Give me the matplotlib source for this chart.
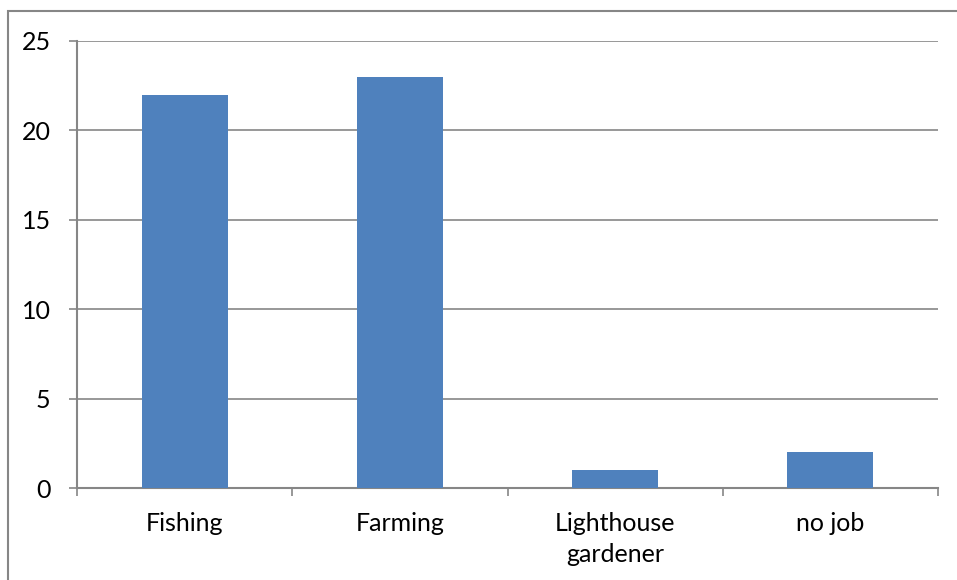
import matplotlib
matplotlib.use("Agg")
import matplotlib.pyplot as plt
from matplotlib.patches import Rectangle

categories = ["Fishing", "Farming", "Lighthouse\ngardener", "no job"]
counts = [22, 23, 1, 2]
y_ticks = [0, 5, 10, 15, 20, 25]

grey = "#868686"
bar_blue = "#4F81BD"

plt.rcParams["font.family"] = ["Lato", "DejaVu Sans"]

fig = plt.figure(figsize=(9.57, 5.80), dpi=100)
W, H = 957, 580
ax = fig.add_axes([77 / W, 1 - 488 / H, (938 - 77) / W, (488 - 41) / H])

# chart area frame (runs off the right/bottom edge)
fig.patches.append(Rectangle((8 / W, -0.1), 1.2, 1 - 11 / H + 0.1,
                             transform=fig.transFigure, fill=False,
                             edgecolor=grey, linewidth=1.5))

x = range(len(categories))
ax.bar(x, counts, width=0.4, color=bar_blue, zorder=3)

ax.set_xlim(-0.5, len(categories) - 0.5)
ax.set_ylim(0, 25)
ax.set_yticks(y_ticks)
ax.yaxis.grid(True, color=grey, linewidth=1.2)
ax.set_axisbelow(True)

for side in ["top", "right"]:
    ax.spines[side].set_visible(False)
for side in ["left", "bottom"]:
    ax.spines[side].set_color(grey)
    ax.spines[side].set_linewidth(1.5)

ax.tick_params(axis="y", length=6, width=1.2, color=grey, labelsize=18, pad=13)
ax.set_xticks([i - 0.5 for i in range(len(categories) + 1)], minor=False)
ax.set_xticklabels([])
ax.set_xticks(list(x), minor=True)
ax.set_xticklabels(categories, minor=True, fontsize=18, linespacing=1.45, va="top")
ax.tick_params(axis="x", which="major", length=6, width=1.2, color=grey, direction="out")
ax.tick_params(axis="x", which="minor", length=0, pad=17)

fig.savefig("out.png", dpi=100)
